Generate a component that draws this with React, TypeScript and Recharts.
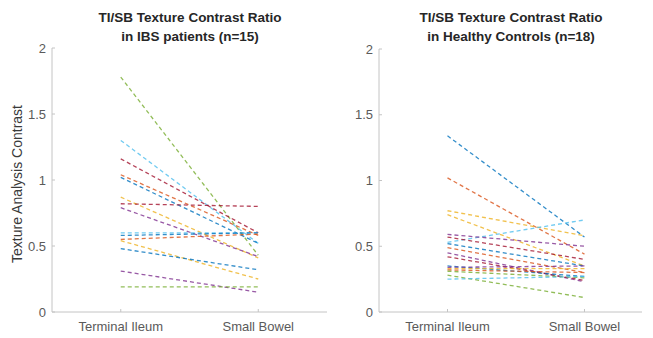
import React from 'react';
import { LineChart, Line, XAxis, YAxis } from 'recharts';

const categories = ['Terminal Ileum', 'Small Bowel'];
const yTicks = [0, 0.5, 1, 1.5, 2];

// IBS patients (n=15)
const ibsTI = [1.78, 1.30, 1.16, 1.04, 1.02, 0.87, 0.82, 0.79, 0.60, 0.58, 0.55, 0.54, 0.48, 0.31, 0.19];
const ibsSB = [0.43, 0.52, 0.60, 0.58, 0.52, 0.41, 0.80, 0.42, 0.60, 0.60, 0.59, 0.25, 0.32, 0.15, 0.19];
const ibsColorIdx = [4, 5, 6, 1, 0, 2, 6, 3, 5, 0, 1, 2, 0, 3, 4];

// Healthy controls (n=18)
const hcTI = [1.34, 1.02, 0.77, 0.74, 0.53, 0.59, 0.57, 0.52, 0.49, 0.45, 0.42, 0.35, 0.34, 0.33, 0.32, 0.31, 0.28, 0.25];
const hcSB = [0.57, 0.44, 0.58, 0.35, 0.70, 0.50, 0.40, 0.35, 0.30, 0.23, 0.24, 0.27, 0.35, 0.33, 0.30, 0.26, 0.11, 0.27];
const hcColorIdx = [0, 1, 2, 2, 5, 3, 6, 0, 1, 3, 6, 0, 3, 2, 1, 4, 4, 5];

const palette = ['#0072BD', '#D95319', '#EDB120', '#7E2F8E', '#77AC30', '#4DBEEE', '#A2142F'];

function buildRows(ti: number[], sb: number[]) {
  const r1: any = { x: 1 };
  const r2: any = { x: 2 };
  ti.forEach((v, i) => { r1['s' + i] = v; });
  sb.forEach((v, i) => { r2['s' + i] = v; });
  return [r1, r2];
}

const FONT = '"Liberation Sans", Arial, Helvetica, sans-serif';
const tickStyle = { fontSize: 13, fill: '#5a5a5a', fontFamily: FONT };
const AX = '#c4c4c4';

function Panel({ ti, sb, colorIdx, width, margin, xDomain }: any) {
  const data = buildRows(ti, sb);
  return (
    <LineChart width={width} height={338} data={data} margin={margin}>
      <XAxis
        xAxisId="b"
        dataKey="x"
        type="number"
        domain={xDomain}
        ticks={[1, 2]}
        allowDataOverflow
        tickFormatter={(v: number) => categories[v - 1]}
        tick={tickStyle}
        stroke={AX}
        tickSize={-3}
        tickMargin={13}
        height={26}
      />
      <XAxis
        xAxisId="t"
        orientation="top"
        dataKey="x"
        type="number"
        domain={xDomain}
        ticks={[1, 2]}
        allowDataOverflow
        tickFormatter={() => ''}
        stroke={AX}
        tickSize={-3}
        height={0}
      />
      <YAxis
        yAxisId="l"
        type="number"
        domain={[0, 2]}
        ticks={yTicks}
        tick={tickStyle}
        stroke={AX}
        tickSize={-3}
        tickMargin={9}
        width={30}
      />
      <YAxis
        yAxisId="r"
        orientation="right"
        type="number"
        domain={[0, 2]}
        ticks={yTicks}
        tickFormatter={() => ''}
        stroke={AX}
        tickSize={-3}
        width={0}
      />
      {ti.map((_: number, i: number) => (
        <Line
          key={i}
          xAxisId="b"
          yAxisId="l"
          dataKey={'s' + i}
          stroke={palette[colorIdx[i]]}
          strokeOpacity={0.8}
          strokeWidth={1.3}
          strokeDasharray="4 3"
          dot={false}
          isAnimationActive={false}
        />
      ))}
    </LineChart>
  );
}

export default function App() {
  return (
    <div style={{ position: 'absolute', left: 0, top: 0, width: 653, height: 338, background: '#fff', overflow: 'hidden' }}>
      <div style={{ position: 'absolute', left: 0, top: 0 }}>
        <Panel
          ti={ibsTI}
          sb={ibsSB}
          colorIdx={ibsColorIdx}
          width={330}
          margin={{ top: 48, right: 3, bottom: 0, left: 22 }}
          xDomain={[0.5, 2.5]}
        />
      </div>
      <div style={{ position: 'absolute', left: 330, top: 0 }}>
        <Panel
          ti={hcTI}
          sb={hcSB}
          colorIdx={hcColorIdx}
          width={323}
          margin={{ top: 49, right: 11, bottom: 0, left: 19 }}
          xDomain={[0.5, 2.42]}
        />
      </div>
      <svg width={653} height={338} style={{ position: 'absolute', left: 0, top: 0, pointerEvents: 'none' }}>
        <g fontFamily={FONT} fontWeight="bold" fontSize={13.5} fill="#262626" textAnchor="middle">
          <text x={190} y={21.5}>TI/SB Texture Contrast Ratio</text>
          <text x={190} y={41}>in IBS patients (n=15)</text>
          <text x={511} y={21.5}>TI/SB Texture Contrast Ratio</text>
          <text x={511} y={41}>in Healthy Controls (n=18)</text>
        </g>
        <text
          x={0}
          y={0}
          transform="translate(22,184) rotate(-90)"
          textAnchor="middle"
          fontFamily={FONT}
          fontSize={14}
          fill="#3a3a3a"
        >
          Texture Analysis Contrast
        </text>
      </svg>
    </div>
  );
}
